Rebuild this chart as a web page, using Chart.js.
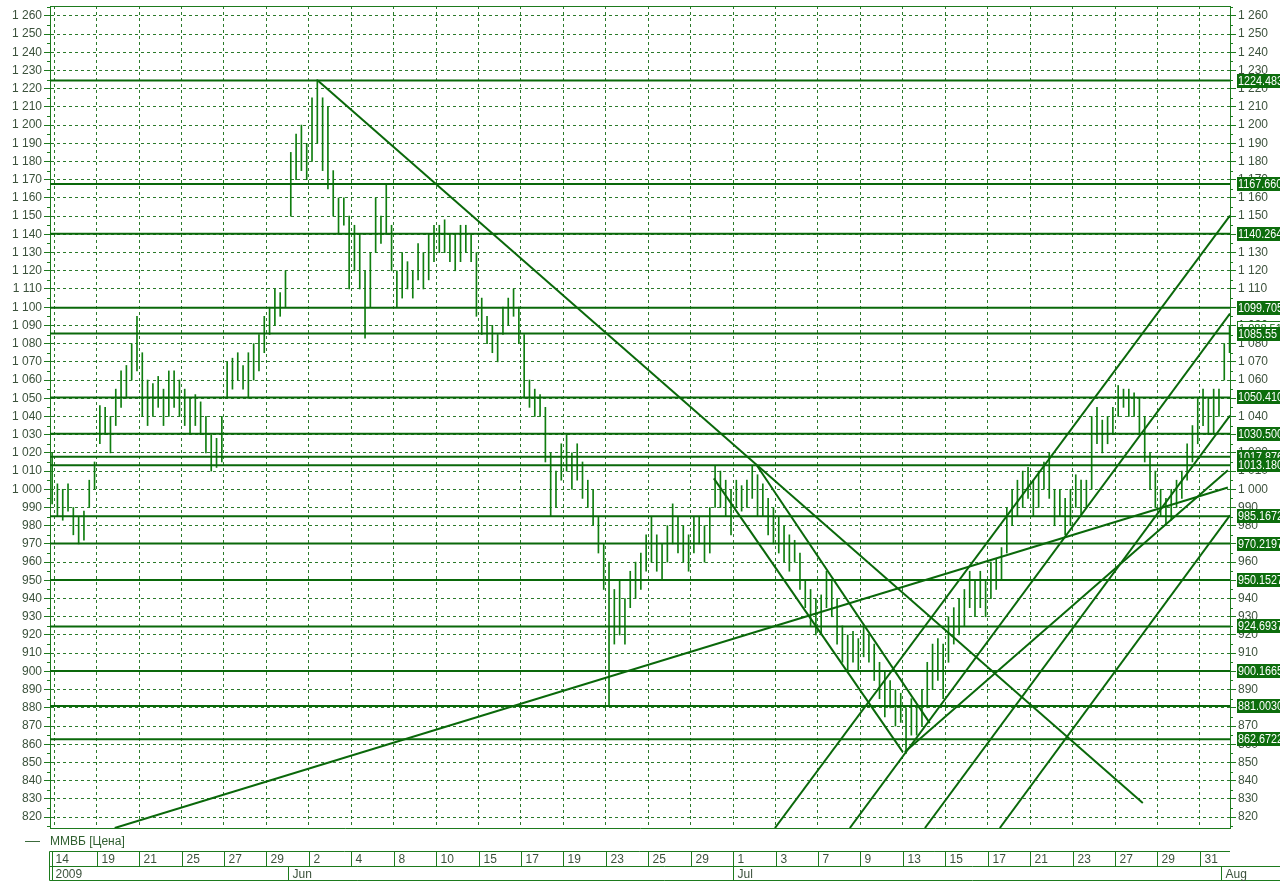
<!DOCTYPE html>
<html>
<head>
<meta charset="utf-8">
<title>ММВБ</title>
<script src="https://cdn.jsdelivr.net/npm/chart.js@4.4.1/dist/chart.umd.min.js"></script>
<style>
  html, body { margin: 0; padding: 0; background: #ffffff; }
  #wrap { width: 1280px; height: 882px; }
</style>
</head>
<body>
<div id="wrap"><canvas id="mmvbChart" width="1280" height="882"></canvas></div>
<script>
// ---- data ----
// x unit = trading day, 0 = first labelled day, bars are 4 per day
var dayTickPos = [0, 2, 4, 6, 8, 10, 12, 14, 16, 18, 20, 22, 24, 26, 28, 30, 32, 34, 36, 38, 40, 42, 44, 46, 48, 50, 52, 54];
var dayTickLabels = ['14', '19', '21', '25', '27', '29', '2', '4', '8', '10', '15', '17', '19', '23', '25', '29', '1', '3', '7', '9', '13', '15', '17', '21', '23', '27', '29', '31'];
var monthPos = [0, 11, 32, 55];
var monthLabels = ['2009', 'Jun', 'Jul', 'Aug'];

var barLow = [
    992, 985, 983, 988, 975, 970, 972, 990, 1000, 1025,
    1030, 1020, 1035, 1045, 1050, 1060, 1065, 1040, 1035, 1040,
    1045, 1035, 1040, 1045, 1040, 1035, 1030, 1035, 1030, 1020,
    1010, 1012, 1015, 1050, 1055, 1060, 1055, 1050, 1060, 1065,
    1075, 1085, 1090, 1095, 1100, 1150, 1170, 1175, 1170, 1180,
    1190, 1175, 1165, 1150, 1140, 1145, 1110, 1120, 1110, 1083,
    1100, 1130, 1135, 1140, 1120, 1100, 1105, 1110, 1105, 1115,
    1110, 1115, 1125, 1130, 1130, 1125, 1120, 1125, 1130, 1125,
    1095, 1085, 1080, 1075, 1070, 1085, 1090, 1095, 1080, 1050,
    1045, 1040, 1040, 1015, 985, 990, 1005, 1010, 1000, 1005,
    995, 990, 980, 965, 945, 881, 915, 920, 915, 935,
    940, 945, 955, 960, 955, 950, 960, 970, 965, 960,
    955, 965, 970, 960, 965, 990, 990, 985, 975, 990,
    988, 990, 995, 985, 985, 975, 970, 965, 960, 955,
    960, 945, 935, 925, 920, 920, 935, 930, 915, 905,
    900, 905, 900, 908, 905, 895, 885, 875, 880, 870,
    872, 855, 865, 865, 870, 880, 890, 895, 885, 905,
    915, 920, 925, 935, 930, 935, 930, 940, 945, 950,
    965, 980, 985, 990, 995, 985, 990, 1000, 995, 980,
    985, 975, 980, 990, 985, 990, 1000, 1025, 1020, 1025,
    1030, 1040, 1045, 1040, 1040, 1030, 1015, 1000, 990, 985,
    980, 983, 990, 995, 1005, 1015, 1025, 1035, 1030, 1030,
    1040, 1060, 1075
];
var barHigh = [
    1020, 1003, 1000, 1003, 990, 985, 988, 1005, 1015, 1046,
    1045, 1040, 1055, 1065, 1068, 1080, 1095, 1075, 1060, 1058,
    1062, 1055, 1065, 1065, 1060, 1055, 1050, 1052, 1048, 1040,
    1030, 1028, 1040, 1070, 1072, 1075, 1068, 1075, 1080, 1085,
    1095, 1100, 1110, 1108, 1120, 1185, 1195, 1200, 1190, 1215,
    1225, 1215, 1210, 1175, 1160, 1160, 1150, 1145, 1140, 1120,
    1130, 1160, 1150, 1168, 1145, 1120, 1130, 1125, 1120, 1135,
    1130, 1140, 1145, 1145, 1148, 1140, 1140, 1145, 1145, 1140,
    1130, 1105, 1095, 1090, 1085, 1100, 1105, 1110, 1100, 1085,
    1060, 1055, 1052, 1045, 1020, 1010, 1025, 1030, 1020, 1025,
    1015, 1005, 1000, 985, 970, 960, 945, 950, 940, 955,
    960, 965, 975, 985, 975, 970, 980, 992, 985, 980,
    975, 985, 985, 980, 990, 1013, 1010, 1005, 1000, 1005,
    1002, 1005, 1013, 1008, 1003, 995, 990, 985, 980, 975,
    972, 965, 950, 945, 940, 942, 955, 950, 940, 925,
    920, 922, 918, 925, 920, 915, 905, 900, 895, 890,
    888, 880, 885, 880, 890, 905, 915, 918, 915, 930,
    935, 940, 945, 955, 950, 955, 950, 960, 962, 968,
    990, 1000, 1005, 1010, 1012, 1005, 1010, 1015, 1020, 1000,
    1000, 995, 1000, 1008, 1005, 1005, 1040, 1045, 1038, 1040,
    1045, 1057, 1055, 1055, 1053, 1050, 1040, 1020, 1010, 1000,
    995, 1000, 1005, 1010, 1025, 1035, 1050, 1055, 1050, 1055,
    1055, 1080, 1090
];

// horizontal levels and their right-hand boxes
var levelValues = [1224.483, 1167.660, 1140.264, 1099.705, 1085.55, 1050.410, 1030.500, 1017.876,
    1013.180, 985.1672, 970.2197, 950.1527, 924.6937, 900.1665, 881.0030, 862.6722];
var levelLabels = ['1224.483', '1167.660', '1140.264', '1099.705', '1085.55', '1050.410', '1030.500', '1017.876',
    '1013.180', '985.1672', '970.2197', '950.1527', '924.6937', '900.1665', '881.0030', '862.6722'];
var lastPrice = 1088.51;

// trend lines: [fromDay, fromValue, toDay, toValue]
var trendLines = [
    [2.85, 814.0, 55.32, 1001.0],
    [12.42, 1224.5, 51.31, 827.7],
    [31.09, 1006.0, 40.00, 855.7],
    [33.12, 1013.1, 41.27, 871.6],
    [33.97, 814.0, 55.42, 1150.3],
    [37.50, 814.0, 55.42, 1096.5],
    [41.04, 814.0, 55.42, 1040.5],
    [44.57, 814.0, 55.42, 985.7],
    [40.09, 855.7, 55.32, 1010.4]
];

var xMin = -0.2, xMax = 55.42;
var yMin = 814, yMax = 1265.4;

// ---- colours ----
var lineGreen = '#0a680a';
var barGreen = '#107e10';
var gridGreen = '#2b7a2b';
var axisGreen = '#1d7a1d';
var textColor = '#3b513b';
var fontFamily = '"Liberation Sans", Arial, sans-serif';

function fmtThousands(v) {
    if (v >= 1000) {
        var rest = String(v % 1000);
        while (rest.length < 3) rest = '0' + rest;
        return Math.floor(v / 1000) + ' ' + rest;
    }
    return String(v);
}

var yTicks = [];
for (var t = 820; t <= 1260; t += 10) yTicks.push(t);

// build datasets
var barData = barLow.map(function(lo, i) {
    return { x: i / 4 - 0.1, y: [lo, barHigh[i]] };
});

var datasets = [{
    type: 'bar',
    label: 'ММВБ [Цена]',
    data: barData,
    backgroundColor: barGreen,
    borderWidth: 0,
    barThickness: 1,
    order: 10
}];

levelValues.forEach(function(v) {
    datasets.push({
        type: 'line',
        data: [{ x: xMin, y: v }, { x: xMax, y: v }],
        borderColor: lineGreen,
        borderWidth: 2,
        pointRadius: 0,
        order: 1
    });
});

trendLines.forEach(function(tl) {
    datasets.push({
        type: 'line',
        data: [{ x: tl[0], y: tl[1] }, { x: tl[2], y: tl[3] }],
        borderColor: lineGreen,
        borderWidth: 2,
        pointRadius: 0,
        order: 1
    });
});

function strokeLine(ctx, x1, y1, x2, y2) {
    ctx.beginPath();
    ctx.moveTo(x1, y1);
    ctx.lineTo(x2, y2);
    ctx.stroke();
}

// draws frame pieces, minor ticks, level boxes, date strip and legend
var overlayPlugin = {
    id: 'overlay',
    afterDraw: function(chart) {
        var ctx = chart.ctx;
        var area = chart.chartArea;
        var xs = chart.scales.x;
        var ys = chart.scales.y;
        ctx.save();
        ctx.strokeStyle = axisGreen;
        ctx.lineWidth = 1;

        // top frame line
        strokeLine(ctx, area.left, area.top + 0.5, area.right, area.top + 0.5);

        // minor ticks every 5
        for (var v = 815; v <= 1265; v += 10) {
            var py = Math.round(ys.getPixelForValue(v)) + 0.5;
            strokeLine(ctx, area.left - 3, py, area.left, py);
            strokeLine(ctx, area.right, py, area.right + 3, py);
        }

        // last price box (outlined, behind the others)
        ctx.font = '11px ' + fontFamily;
        ctx.textBaseline = 'middle';
        ctx.textAlign = 'left';
        var lp = Math.round(ys.getPixelForValue(lastPrice));
        ctx.fillStyle = '#ffffff';
        ctx.fillRect(1237, lp - 7, 50, 14);
        ctx.strokeRect(1237.5, lp - 6.5, 50, 13);
        ctx.fillStyle = lineGreen;
        ctx.fillText(fmtThousands(Math.floor(lastPrice)) + '.51', 1239, lp + 1);

        // level value boxes
        ctx.font = '12px ' + fontFamily;
        levelValues.forEach(function(val, i) {
            var y = Math.round(ys.getPixelForValue(val));
            ctx.fillStyle = '#0d6d0d';
            ctx.fillRect(1237, y - 7, 50, 14);
            ctx.fillStyle = '#ffffff';
            ctx.save();
            ctx.translate(1238, y + 1);
            ctx.scale(0.9, 1);
            ctx.fillText(levelLabels[i], 0, 0);
            ctx.restore();
        });

        // date strip
        ctx.font = '12px ' + fontFamily;
        var r0 = 851.5, r1 = 866.5, r2 = 880.5;
        var left = 49.5;
        strokeLine(ctx, left, r0, area.right, r0);
        strokeLine(ctx, left, r1, 1280, r1);
        strokeLine(ctx, left, r2, 1280, r2);
        strokeLine(ctx, left, r0, left, r2);
        strokeLine(ctx, left + 3, r0, left + 3, r2);
        ctx.fillStyle = textColor;
        dayTickPos.forEach(function(d, i) {
            var px = Math.round(xs.getPixelForValue(d)) + 0.5;
            var tx = px + 4;
            if (i === 0) {
                tx = left + 6;
            } else {
                strokeLine(ctx, px, r0, px, r1);
            }
            ctx.fillText(dayTickLabels[i], tx, (r0 + r1) / 2 + 1);
        });
        monthPos.forEach(function(d, i) {
            var px = Math.round(xs.getPixelForValue(d)) + 0.5;
            var tx = px + 4;
            if (i === 0) {
                tx = left + 6;
            } else {
                strokeLine(ctx, px, r1, px, r2);
            }
            ctx.fillText(monthLabels[i], tx, (r1 + r2) / 2 + 1);
        });

        // legend
        ctx.strokeStyle = '#3c6b3c';
        strokeLine(ctx, 25, 841.5, 40, 841.5);
        ctx.fillStyle = '#2f5f2f';
        ctx.fillText('ММВБ [Цена]', 50, 842);

        ctx.restore();
    }
};

var ctxMain = document.getElementById('mmvbChart');

var yAxisBase = function(pos, showGrid) {
    return {
        type: 'linear',
        position: pos,
        min: yMin,
        max: yMax,
        afterBuildTicks: function(scale) {
            scale.ticks = yTicks.map(function(v) { return { value: v }; });
        },
        afterFit: function(scale) {
            scale.width = 50;
            // no extra room for half label heights, frame sits at the padding
            scale.paddingTop = 0;
            scale.paddingBottom = 0;
        },
        grid: {
            display: true,
            drawOnChartArea: showGrid,
            color: gridGreen,
            lineWidth: 1,
            drawTicks: true,
            tickLength: 6,
            tickColor: axisGreen
        },
        border: {
            display: true,
            color: axisGreen,
            width: 1,
            dash: [3, 3]
        },
        ticks: {
            color: textColor,
            padding: 2,
            font: { family: fontFamily, size: 12 },
            callback: function(value) { return fmtThousands(value); }
        }
    };
};

var mmvbChart = new Chart(ctxMain.getContext('2d'), {
    type: 'bar',
    data: { datasets: datasets },
    options: {
        responsive: false,
        animation: false,
        devicePixelRatio: 1,
        events: [],
        layout: { padding: { top: 6, left: 0, right: 0, bottom: 0 } },
        plugins: {
            legend: { display: false },
            tooltip: { enabled: false },
            title: { display: false }
        },
        scales: {
            x: {
                type: 'linear',
                offset: false,
                min: xMin,
                max: xMax,
                afterBuildTicks: function(scale) {
                    scale.ticks = dayTickPos.map(function(v) { return { value: v }; });
                },
                afterFit: function(scale) {
                    scale.height = 54;
                    scale.paddingLeft = 0;
                    scale.paddingRight = 0;
                },
                grid: {
                    color: gridGreen,
                    lineWidth: 1,
                    drawTicks: false,
                    offset: false
                },
                border: {
                    display: true,
                    color: axisGreen,
                    width: 1,
                    dash: [3, 3]
                },
                ticks: { display: false }
            },
            y: yAxisBase('left', true),
            y2: yAxisBase('right', false)
        }
    },
    plugins: [overlayPlugin]
});
</script>
</body>
</html>
